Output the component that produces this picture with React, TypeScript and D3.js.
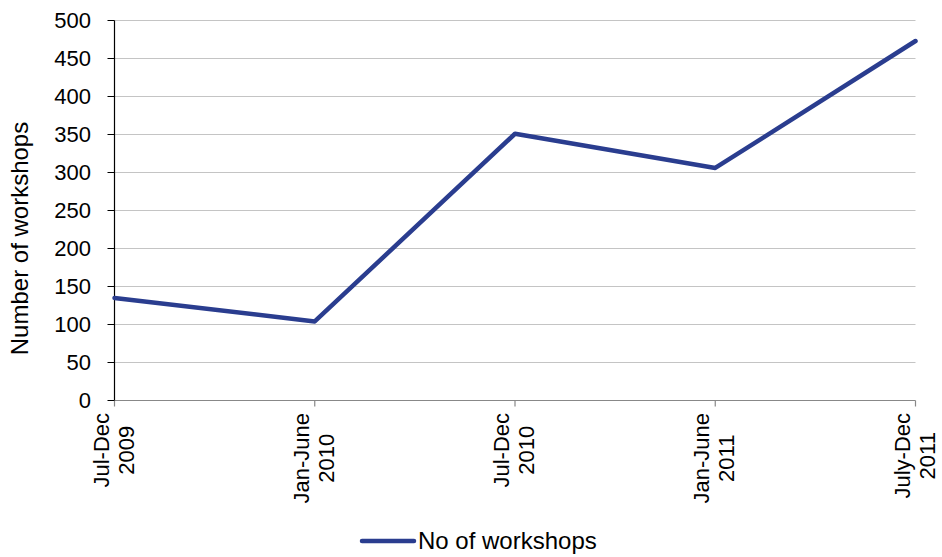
import React from "react";
import * as d3 from "d3";

const categories: string[][] = [
  ["Jul-Dec", "2009"],
  ["Jan-June", "2010"],
  ["Jul-Dec", "2010"],
  ["Jan-June", "2011"],
  ["July-Dec", "2011"],
];
const values: number[] = [135, 104, 351, 306, 473];
const yTicks: number[] = [0, 50, 100, 150, 200, 250, 300, 350, 400, 450, 500];
const seriesName = "No of workshops";

const FONT = "Arial, 'Liberation Sans', sans-serif";
const FS = 22;
const FS_BIG = 24;

function measure(s: string, size: number): number {
  const c = document.createElement("canvas").getContext("2d");
  if (!c) return s.length * size * 0.5;
  c.font = `${size}px 'Liberation Sans', Arial, sans-serif`;
  return c.measureText(s).width;
}

export default function App() {
  const W = 942, H = 557;
  const left = 114.5, right = 915.5, top = 20.5, bottom = 400.5;
  const x = d3.scalePoint<number>().domain(d3.range(values.length)).range([left, right]);
  const y = d3.scaleLinear().domain([0, 500]).range([bottom, top]);
  const line = d3.line<number>().x((_, i) => x(i)!).y((d) => y(d));
  const color = "#2a3d8f";
  return (
    <svg width={W} height={H} style={{ position: "absolute", left: 0, top: 0 }} fontFamily={FONT}>
      <rect width={W} height={H} fill="#fff" />
      {yTicks.map((t) => (
        <g key={t}>
          {t > 0 && <line x1={left} x2={right} y1={y(t)} y2={y(t)} stroke="#c4c4c4" strokeWidth={1} />}
          <line x1={left - 7} x2={left} y1={y(t)} y2={y(t)} stroke="#000" />
          <text x={91} y={y(t)} dy="0.36em" textAnchor="end" fontSize={FS} fill="#000">{t}</text>
        </g>
      ))}
      <line x1={left} x2={right} y1={bottom} y2={bottom} stroke="#888" strokeWidth={1.2} />
      {categories.map((c, i) => {
        const longest = Math.max(...c.map((s) => measure(s, FS)));
        const cy = 413 + longest / 2;
        return (
          <g key={i}>
            <line x1={x(i)} x2={x(i)} y1={bottom} y2={bottom + 6} stroke="#888" strokeWidth={1.2} />
            <text transform={`translate(${x(i)},${cy}) rotate(-90)`} textAnchor="middle" fontSize={FS} fill="#000">
              <tspan x={0} dy={-6}>{c[0]}</tspan>
              <tspan x={0} dy={25}>{c[1]}</tspan>
            </text>
          </g>
        );
      })}
      <line x1={left} x2={left} y1={top} y2={bottom} stroke="#000" strokeWidth={1.2} />
      <path d={line(values) ?? ""} fill="none" stroke={color} strokeWidth={4.5} strokeLinecap="round" strokeLinejoin="round" />
      <text transform={`translate(28,238.5) rotate(-90)`} textAnchor="middle" fontSize={FS_BIG} fill="#000">
        Number of workshops
      </text>
      <line x1={362} x2={414} y1={541} y2={541} stroke={color} strokeWidth={4.5} strokeLinecap="round" />
      <text x={418} y={549} fontSize={FS_BIG} fill="#000">{seriesName}</text>
    </svg>
  );
}
